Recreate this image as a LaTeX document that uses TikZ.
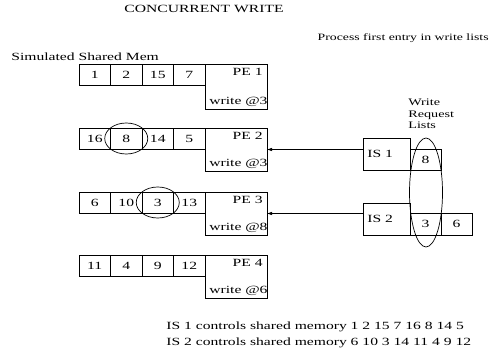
\documentclass[tikz,border=0pt]{standalone}
\usepackage{fontspec}
\setmainfont{Liberation Serif}[FakeStretch=1.42]
\usetikzlibrary{arrows.meta,shapes.geometric}
\begin{document}
\begin{tikzpicture}[x=1pt,y=-1pt,
  font=\fontsize{11}{13}\selectfont,
  line width=0.7pt,
  cell/.style={draw, anchor=north west, minimum width=31.5pt, minimum height=21pt, inner sep=0pt, outer sep=0pt},
  qcell/.style={draw, anchor=north west, minimum width=31pt, minimum height=21pt, inner sep=0pt, outer sep=0pt},
  pebox/.style={draw, anchor=north west, minimum width=62pt, minimum height=43pt, inner sep=0pt, outer sep=0pt},
  isbox/.style={draw, anchor=north west, minimum width=47pt, minimum height=32pt, inner sep=0pt, outer sep=0pt},
  petxt/.style={anchor=north east, inner sep=0pt},
  wrtxt/.style={anchor=base west, inner sep=0pt},
  plain/.style={inner sep=0pt},
  hilite/.style={draw, ellipse, minimum width=43pt, minimum height=31pt, inner sep=0pt},
  req/.style={-{Latex[length=5pt,width=3.5pt]}, line width=0.5pt}
]
\useasboundingbox (0,0) rectangle (489,353);

% texts
\node[plain, anchor=base] (title) at (204,12.5) {CONCURRENT WRITE};
\node[plain, anchor=base east, font=\fontsize{9.7}{11}\selectfont] (proc) at (489,41) {Process first entry in write lists};
\node[plain, anchor=base west] (sim) at (11,60.5) {Simulated Shared Mem};

% row 1
\node[cell] (r1c1) at (79,64) {1};
\node[cell] (r1c2) at (110.5,64) {2};
\node[cell] (r1c3) at (142,64) {\raisebox{-1.5pt}{15}};
\node[cell] (r1c4) at (173.5,64) {7};
\node[pebox, minimum height=45pt] (pe1) at (205,64) {};
\node[petxt] (pe1t) at ([shift={(-4,3.5)}]pe1.north east) {PE 1};
\node[wrtxt] (pe1w) at ([shift={(4,-5)}]pe1.south west) {write @3};

% row 2
\node[cell] (r2c1) at (79,128) {16};
\node[cell] (r2c2) at (110.5,128) {8};
\node[cell] (r2c3) at (142,128) {14};
\node[cell] (r2c4) at (173.5,128) {\raisebox{-1.5pt}{5}};
\node[pebox] (pe2) at (205,128) {};
\node[petxt] (pe2t) at ([shift={(-4,3.5)}]pe2.north east) {PE 2};
\node[wrtxt] (pe2w) at ([shift={(4,-5)}]pe2.south west) {write @3};
\node[hilite] (h1) at (r2c2.center) {};

% row 3
\node[cell] (r3c1) at (79,192) {6};
\node[cell] (r3c2) at (110.5,192) {10};
\node[cell] (r3c3) at (142,192) {3};
\node[cell] (r3c4) at (173.5,192) {\raisebox{-1.5pt}{13}};
\node[pebox] (pe3) at (205,192) {};
\node[petxt] (pe3t) at ([shift={(-4,3.5)}]pe3.north east) {PE 3};
\node[wrtxt] (pe3w) at ([shift={(4,-5)}]pe3.south west) {write @8};
\node[hilite] (h2) at (r3c3.center) {};

% row 4
\node[cell] (r4c1) at (79,255) {11};
\node[cell] (r4c2) at (110.5,255) {\raisebox{-1.5pt}{4}};
\node[cell] (r4c3) at (142,255) {9};
\node[cell] (r4c4) at (173.5,255) {\raisebox{-1.5pt}{12}};
\node[pebox] (pe4) at (205,255) {};
\node[petxt] (pe4t) at ([shift={(-4,3.5)}]pe4.north east) {PE 4};
\node[wrtxt] (pe4w) at ([shift={(4,-5)}]pe4.south west) {write @6};

% write request lists
\node[plain, anchor=north west, align=left, font=\fontsize{10}{11.5}\selectfont] (wrl) at (408,99) {Write\\Request\\Lists};

\node[isbox] (is1) at (363,138) {};
\node[plain, anchor=west] (is1t) at ([shift={(4,0)}]is1.west) {IS 1};
\node[qcell] (q11) at (410,149) {8};

\node[isbox] (is2) at (363,203) {};
\node[plain, anchor=west] (is2t) at ([shift={(4,0)}]is2.west) {IS 2};
\node[qcell, minimum height=22pt] (q21) at (410,213) {\raisebox{-1.5pt}{3}};
\node[qcell, minimum height=22pt] (q22) at (441,213) {\raisebox{-1.5pt}{6}};

\node[draw, ellipse, minimum width=33pt, minimum height=109pt, inner sep=0pt] (big) at (426,192.5) {};

% arrows
\draw[req] (is1.west |- pe2.east) -- (pe2.east);
\draw[req] (is2.west |- pe3.east) -- (pe3.east);

% bottom
\node[plain, anchor=base west] (c1) at (166,329) {IS 1 controls shared memory 1 2 15 7 16 8 14 5};
\node[plain, anchor=base west] (c2) at (166,345) {IS 2 controls shared memory 6 10 3 14 11 4 9 12};
\end{tikzpicture}
\end{document}
